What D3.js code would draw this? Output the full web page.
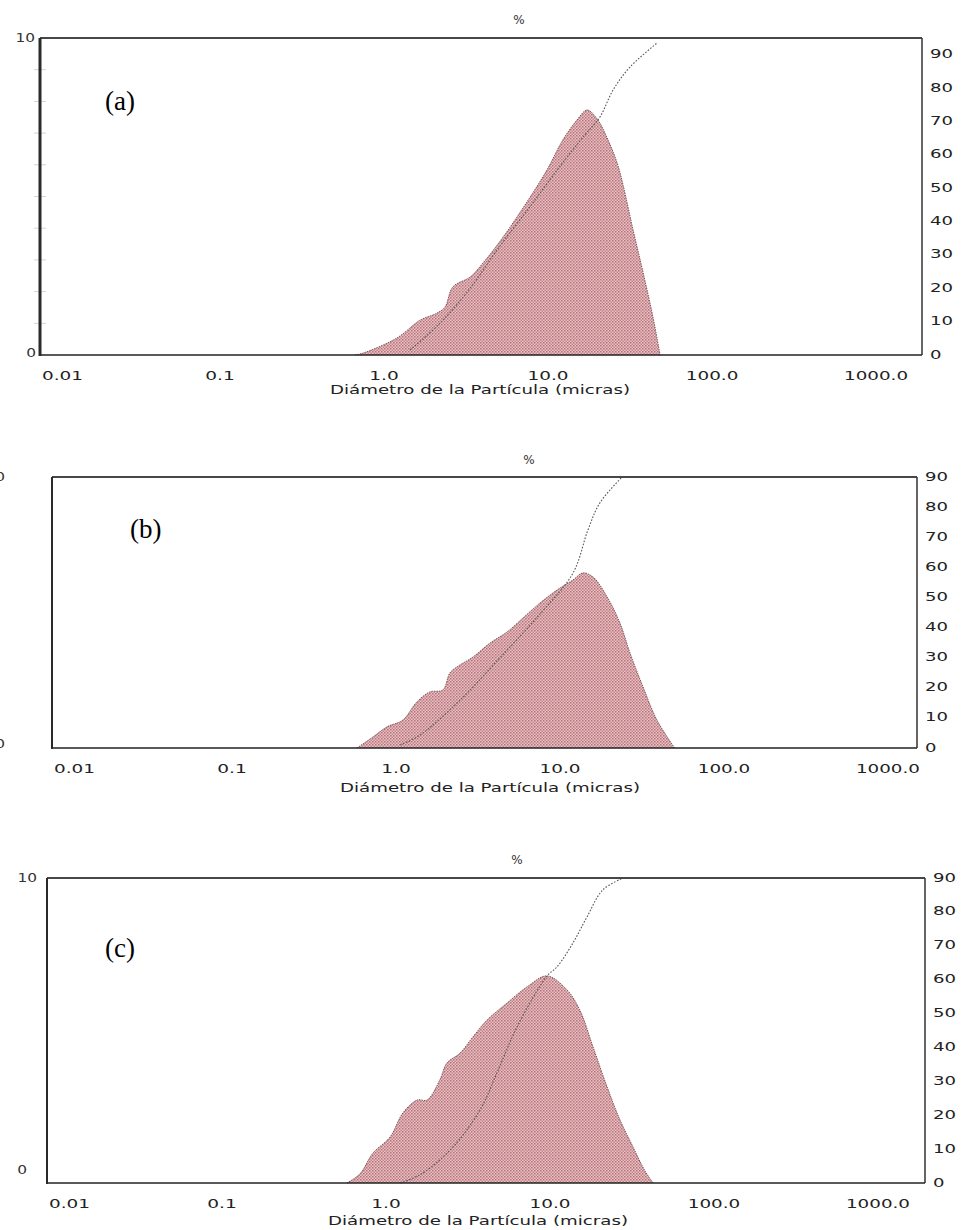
<!DOCTYPE html>
<html>
<head>
<meta charset="utf-8">
<script src="https://cdn.jsdelivr.net/npm/d3@7"></script>
<style>
  body { margin: 0; background: #fff; }
  svg { display: block; }
</style>
</head>
<body>
<svg id="chart" width="969" height="1230"></svg>
<script>
// ---- Data: particle size distributions (diameter in µm, volume %) ----
const xTicks = [0.01, 0.1, 1, 10, 100, 1000];
const xTickLabels = ["0.01", "0.1", "1.0", "10.0", "100.0", "1000.0"];
const rightTicks = [0, 10, 20, 30, 40, 50, 60, 70, 80, 90];
const leftTicks = [0, 10];

// Sample (a)
const diamA = [0.666, 0.745, 1.20, 1.66, 2.10, 2.35, 2.63, 3.35, 4.01, 5.32, 7.77, 9.86, 12.3, 15.0, 17.3, 19.9, 22.9, 26.4, 28.7, 33.0, 37.9, 43.6, 48.2];
const volA  = [0, 0.06, 0.54, 1.10, 1.32, 1.51, 2.15, 2.46, 2.90, 3.72, 4.98, 5.84, 6.78, 7.41, 7.73, 7.45, 6.85, 6.05, 5.35, 3.94, 2.62, 1.20, 0];
const cumDiamA = [1.44, 2.19, 3.35, 4.89, 7.77, 11.8, 16.8, 20.7, 24.9, 31.6, 46.2];
const cumA     = [1.5, 9.5, 20.0, 31.5, 44.5, 56.5, 66.0, 71.3, 79.4, 86.3, 93.5];

// Sample (b)
const diamB = [0.578, 0.724, 0.881, 1.10, 1.34, 1.61, 1.93, 2.13, 2.35, 2.95, 3.74, 4.75, 5.95, 7.55, 9.59, 12.0, 13.8, 15.9, 19.4, 23.2, 26.7, 32.1, 39.0, 50.0];
const volB  = [0, 0.41, 0.78, 1.03, 1.70, 2.07, 2.14, 2.77, 2.99, 3.36, 3.87, 4.28, 4.80, 5.35, 5.83, 6.20, 6.46, 6.31, 5.57, 4.61, 3.51, 2.25, 1.03, 0];
const cumDiamB = [1.06, 1.40, 2.46, 4.31, 7.55, 12.0, 14.8, 17.5, 23.9];
const cumB     = [1.0, 4.3, 15.9, 30.0, 44.5, 58.1, 72.4, 81.4, 90.0];

// Sample (c)
const diamC = [0.578, 0.694, 0.833, 1.06, 1.27, 1.55, 1.78, 2.13, 2.35, 2.83, 3.39, 4.13, 5.47, 7.24, 9.59, 12.7, 15.2, 18.3, 22.3, 26.7, 32.1, 37.9, 42.5];
const volC  = [0, 0.30, 0.98, 1.51, 2.30, 2.72, 2.72, 3.38, 3.93, 4.26, 4.79, 5.34, 5.90, 6.43, 6.79, 6.33, 5.67, 4.46, 3.15, 2.07, 1.18, 0.40, 0];
const cumDiamC = [1.22, 1.61, 2.46, 3.74, 4.75, 6.29, 9.59, 11.0, 13.8, 16.8, 21.0, 27.9];
const cumC     = [0, 2.4, 9.7, 21.5, 32.5, 46.0, 61.1, 63.7, 70.8, 78.5, 86.5, 90.0];

const xTitle = "Diámetro de la Partícula (micras)";
const yTitle = "%";

// ---- Layout of the three stacked panels ----
const panels = [
  { tag: "(a)", diam: diamA, vol: volA, cumDiam: cumDiamA, cum: cumA,
    left: 40, right: 922, top: 38, bottom: 355, xDomain: [0.00798, 1906], cumMax: 95,
    leftLabelX: 35, zeroLabelX: 36, zeroLabelDy: -2, minorTicks: true, leftAxisWidth: 3,
    tagX: 105, tagY: 110, titleY: 20, titleX: 519, xTitleX: 480, xTitleY: 390, tickY: 376 },
  { tag: "(b)", diam: diamB, vol: volB, cumDiam: cumDiamB, cum: cumB,
    left: 52, right: 917, top: 477, bottom: 748, xDomain: [0.00798, 1503], cumMax: 90,
    leftLabelX: 5, zeroLabelX: 5, zeroLabelDy: -4, minorTicks: false, leftAxisWidth: 2,
    tagX: 130, tagY: 538, titleY: 460, titleX: 529, xTitleX: 490, xTitleY: 788, tickY: 769 },
  { tag: "(c)", diam: diamC, vol: volC, cumDiam: cumDiamC, cum: cumC,
    left: 47, right: 925, top: 878, bottom: 1183, xDomain: [0.00857, 1935], cumMax: 90,
    leftLabelX: 37, zeroLabelX: 27, zeroLabelDy: -13, minorTicks: false, leftAxisWidth: 2,
    tagX: 105, tagY: 957, titleY: 860, titleX: 517, xTitleX: 478, xTitleY: 1221, tickY: 1204 }
];

const svg = d3.select("#chart");
svg.append("rect").attr("width", 969).attr("height", 1230).attr("fill", "#fff");

// Dotted pink fill used for the frequency area
const defs = svg.append("defs");
const pat = defs.append("pattern")
  .attr("id", "dotFill").attr("width", 3).attr("height", 3)
  .attr("patternUnits", "userSpaceOnUse");
pat.append("rect").attr("width", 3).attr("height", 3).attr("fill", "#eac2c4");
pat.append("rect").attr("x", 0).attr("y", 0).attr("width", 1.5).attr("height", 1.5).attr("fill", "#b27078");
pat.append("rect").attr("x", 1.5).attr("y", 1.5).attr("width", 1.5).attr("height", 1.5).attr("fill", "#c4868c");

const tickFont = "'DejaVu Sans', Verdana, sans-serif";

// Widen the screen-font style digits used by the instrument software
function glyphWidth(s) {
  let w = 0;
  for (const ch of s) w += /[0-9]/.test(ch) ? 11.5 : (ch === "." ? 6.5 : 9);
  return w;
}

const smooth = d3.curveCatmullRom.alpha(0.5);

panels.forEach(p => {
  const g = svg.append("g");
  const x = d3.scaleLog().domain(p.xDomain).range([p.left, p.right]);
  const yVol = d3.scaleLinear().domain([0, 10]).range([p.bottom, p.top]);
  const yCum = d3.scaleLinear().domain([0, p.cumMax]).range([p.bottom, p.top]);

  const volPts = p.diam.map((d, i) => [d, p.vol[i]]);
  const cumPts = p.cumDiam.map((d, i) => [d, p.cum[i]]);

  // Frequency area
  const area = d3.area()
    .x(d => x(d[0])).y0(p.bottom).y1(d => Math.min(yVol(d[1]), p.bottom))
    .curve(smooth);
  g.append("path").datum(volPts)
    .attr("d", area)
    .attr("fill", "url(#dotFill)");
  const edge = d3.line().x(d => x(d[0])).y(d => Math.min(yVol(d[1]), p.bottom)).curve(smooth);
  g.append("path").datum(volPts)
    .attr("d", edge)
    .attr("fill", "none").attr("stroke", "#7a5458").attr("stroke-width", 1)
    .attr("stroke-dasharray", "1.5,1");

  // Cumulative undersize curve
  const cumLine = d3.line().x(d => x(d[0])).y(d => yCum(d[1])).curve(smooth);
  g.append("path").datum(cumPts)
    .attr("d", cumLine)
    .attr("fill", "none").attr("stroke", "#555").attr("stroke-width", 1.1)
    .attr("stroke-dasharray", "1.6,1.6");

  // Faint minor ticks on the volume axis
  if (p.minorTicks) {
    const minors = d3.range(1, 10);
    g.selectAll(".minor").data(minors).enter().append("line")
      .attr("x1", p.left - 6).attr("x2", p.left + 6)
      .attr("y1", d => yVol(d)).attr("y2", d => yVol(d))
      .attr("stroke", "#d4d4d4").attr("stroke-width", 1);
  }

  // Frame
  g.append("line").attr("x1", p.left).attr("x2", p.right).attr("y1", p.top).attr("y2", p.top)
    .attr("stroke", "#474747").attr("stroke-width", 2);
  g.append("line").attr("x1", p.right).attr("x2", p.right).attr("y1", p.top).attr("y2", p.bottom)
    .attr("stroke", "#333").attr("stroke-width", 1.5);
  g.append("line").attr("x1", p.left).attr("x2", p.right).attr("y1", p.bottom).attr("y2", p.bottom)
    .attr("stroke", "#222").attr("stroke-width", 1.6);
  g.append("line").attr("x1", p.left).attr("x2", p.left).attr("y1", p.top).attr("y2", p.bottom + 1)
    .attr("stroke", "#2a2a2a").attr("stroke-width", p.leftAxisWidth);

  // Volume axis labels (0 and 10)
  leftTicks.forEach(v => {
    g.append("text")
      .attr("x", v === 0 ? p.zeroLabelX : p.leftLabelX)
      .attr("y", yVol(v) + (v === 0 ? p.zeroLabelDy : 0))
      .attr("text-anchor", "end").attr("dominant-baseline", "middle")
      .attr("font-family", tickFont).attr("font-size", 12).attr("fill", "#333")
      .attr("textLength", glyphWidth(String(v)) * 0.85).attr("lengthAdjust", "spacingAndGlyphs")
      .text(v);
  });

  // Cumulative axis labels on the right
  g.selectAll(".rt").data(rightTicks).enter().append("text")
    .attr("x", p.right + 8).attr("y", d => yCum(d))
    .attr("dominant-baseline", "middle")
    .attr("font-family", tickFont).attr("font-size", 13).attr("fill", "#222")
    .attr("textLength", d => glyphWidth(String(d))).attr("lengthAdjust", "spacingAndGlyphs")
    .text(d => d);

  // Diameter tick labels
  g.selectAll(".xt").data(xTicks).enter().append("text")
    .attr("x", (d, i) => Math.max(x(d), p.left + glyphWidth(xTickLabels[i]) / 2 + 2))
    .attr("y", p.tickY)
    .attr("text-anchor", "middle").attr("dominant-baseline", "middle")
    .attr("font-family", tickFont).attr("font-size", 13).attr("fill", "#222")
    .attr("textLength", (d, i) => glyphWidth(xTickLabels[i])).attr("lengthAdjust", "spacingAndGlyphs")
    .text((d, i) => xTickLabels[i]);

  // Axis titles
  g.append("text")
    .attr("x", p.xTitleX).attr("y", p.xTitleY)
    .attr("text-anchor", "middle").attr("dominant-baseline", "middle")
    .attr("font-family", tickFont).attr("font-size", 13).attr("fill", "#222")
    .attr("textLength", 300).attr("lengthAdjust", "spacingAndGlyphs")
    .text(xTitle);
  g.append("text")
    .attr("x", p.titleX).attr("y", p.titleY)
    .attr("text-anchor", "middle").attr("dominant-baseline", "middle")
    .attr("font-family", tickFont).attr("font-size", 12).attr("fill", "#333")
    .text(yTitle);

  // Sample tag
  g.append("text")
    .attr("x", p.tagX).attr("y", p.tagY)
    .attr("font-family", "'Liberation Serif', 'Times New Roman', serif")
    .attr("font-size", 27).attr("fill", "#000")
    .text(p.tag);
});
</script>
</body>
</html>
